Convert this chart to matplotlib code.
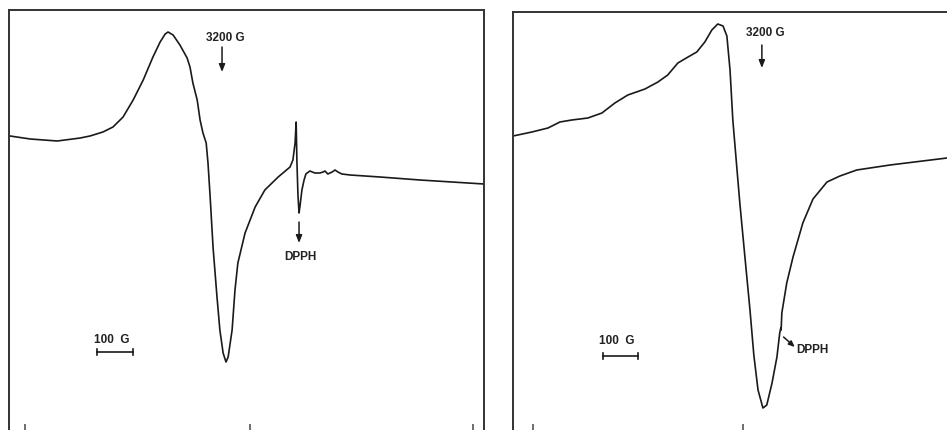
import matplotlib
matplotlib.use("Agg")
import matplotlib.pyplot as plt

# ---- Left spectrum: magnetic field (G) vs derivative signal (arb. units)
left_field = [2611, 2667, 2742, 2806, 2833, 2869, 2897, 2925, 2953, 2981, 3008, 3028, 3042,
              3050, 3064, 3083, 3103, 3111, 3119, 3131, 3139, 3147, 3156, 3161, 3167, 3175,
              3186, 3194, 3203, 3211, 3217, 3228, 3236, 3244, 3264, 3292, 3319, 3356, 3389,
              3397, 3403, 3406, 3408, 3411, 3414, 3417, 3422, 3428, 3433, 3444, 3458, 3472,
              3481, 3486, 3494, 3506, 3514, 3522, 3533, 3556, 3639, 3750, 3928]
left_signal = [6.4, 6.1, 5.9, 6.2, 6.4, 6.8, 7.3, 8.3, 10.0, 12.0, 14.3, 15.8, 16.6,
               16.8, 16.5, 15.5, 14.2, 13.3, 11.7, 10.0, 8.0, 6.7, 5.7, 3.7, 0.3, -4.7,
               -9.7, -13.0, -15.3, -16.2, -15.7, -13.0, -9.0, -6.3, -3.3, -0.7, 1.0, 2.3, 3.3,
               4.0, 5.7, 7.8, 4.0, 0.5, -1.3, -0.5, 1.0, 2.0, 2.6, 2.9, 2.7, 2.7,
               2.8, 2.9, 2.6, 2.8, 3.0, 2.8, 2.6, 2.5, 2.3, 2.0, 1.6]

# ---- Right spectrum
right_field = [2489, 2543, 2589, 2623, 2657, 2703, 2743, 2780, 2817, 2866, 2903, 2931, 2960,
               2989, 3014, 3037, 3057, 3074, 3089, 3100, 3109, 3117, 3129, 3137, 3151,
               3166, 3177, 3189, 3203, 3214, 3229, 3243, 3251, 3254, 3255, 3257, 3271, 3289,
               3317, 3346, 3386, 3423, 3471, 3566, 3729]
right_signal = [6.4, 6.8, 7.2, 7.8, 8.0, 8.2, 8.7, 9.7, 10.5, 11.1, 11.8, 12.5, 13.7,
                14.3, 14.8, 15.8, 17.0, 17.6, 17.4, 16.4, 13.0, 8.0, 3.0, -0.3, -5.5,
                -11.0, -15.5, -19.0, -20.8, -20.5, -18.3, -15.7, -13.3, -12.8, -13.0, -11.3, -8.3, -5.7,
                -2.3, 0.1, 1.8, 2.4, 3.0, 3.5, 4.2]

ref_field = 3200
dpph_label = "DPPH"
ref_label = "3200 G"
scale_label = "100  G"

ink = "#1a1a1a"
font = ["DejaVu Sans Condensed", "Liberation Sans"]
fs = 8.5
fw = "bold"

fig = plt.figure(figsize=(9.47, 4.30), dpi=100)
W, H = 947.0, 430.0

axL = fig.add_axes([9 / W, 0, 475 / W, 420 / H])
axR = fig.add_axes([513 / W, 0, 440 / W, 418 / H])

for ax in (axL, axR):
    for s in ("top", "left", "right"):
        ax.spines[s].set_linewidth(1.4)
        ax.spines[s].set_color("#333333")
    ax.spines["bottom"].set_visible(False)
    ax.set_yticks([])
    ax.tick_params(axis="x", direction="in", length=4, width=1.2, color="#555555",
                   labelbottom=False)

axR.spines["right"].set_visible(False)

arrow = dict(arrowstyle="-|>,head_width=0.18,head_length=0.45", color=ink, lw=1.1,
             shrinkA=0, shrinkB=0)
tkw = dict(fontsize=fs, family=font, fontweight=fw, color="#222222")

# Left panel
axL.plot(left_field, left_signal, color=ink, lw=1.2)
axL.set_xlim(2608, 3928)
axL.set_ylim(-23.0, 19.0)
axL.set_xticks([2653, 3278, 3897])

axL.text(3208, 16.2, ref_label, ha="center", va="center", **tkw)
axL.annotate("", xy=(ref_field, 12.8), xytext=(ref_field, 15.3), arrowprops=arrow)
axL.annotate("", xy=(3414, -4.3), xytext=(3414, -2.2), arrowprops=arrow)
axL.text(3419, -5.7, dpph_label, ha="center", va="center", **tkw)
axL.text(2894, -14.0, scale_label, ha="center", va="center", **tkw)
axL.plot([2853, 2953], [-15.2, -15.2], color=ink, lw=1.2)
axL.plot([2853, 2853], [-15.5, -14.9], color=ink, lw=1.2)
axL.plot([2953, 2953], [-15.5, -14.9], color=ink, lw=1.2)

# Right panel
axR.plot(right_field, right_signal, color=ink, lw=1.2)
axR.set_xlim(2489, 3746)
axR.set_ylim(-23.0, 18.8)
axR.set_xticks([2546, 3146])

axR.text(3209, 16.7, ref_label, ha="center", va="center", **tkw)
axR.annotate("", xy=(ref_field, 13.2), xytext=(ref_field, 15.5), arrowprops=arrow)
axR.annotate("", xy=(3294, -14.7), xytext=(3262, -13.7),
             arrowprops=dict(arrowstyle="-|>,head_width=0.15,head_length=0.35", color=ink,
                             lw=1.1, shrinkA=0, shrinkB=0))
axR.text(3298, -15.0, dpph_label, ha="left", va="center", **tkw)
axR.text(2786, -14.1, scale_label, ha="center", va="center", **tkw)
axR.plot([2746, 2846], [-15.6, -15.6], color=ink, lw=1.2)
axR.plot([2746, 2746], [-15.9, -15.3], color=ink, lw=1.2)
axR.plot([2846, 2846], [-15.9, -15.3], color=ink, lw=1.2)

fig.savefig("out.png", dpi=100)
